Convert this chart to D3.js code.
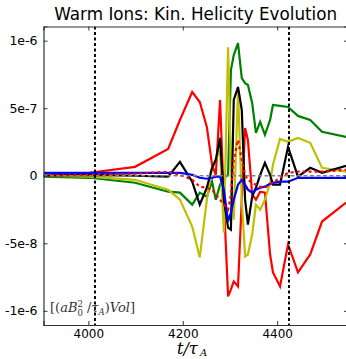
<!DOCTYPE html>
<html>
<head>
<meta charset="utf-8">
<script src="https://cdn.jsdelivr.net/npm/d3@7"></script>
<style>
  body { margin: 0; background: #fff; }
  svg { display: block; }
</style>
</head>
<body>
<svg id="chart"></svg>
<script>
// time samples (t / tau_A)
var time = [3905, 4003, 4099, 4169, 4194, 4220, 4236, 4251, 4262, 4270,
            4279, 4287, 4296, 4302, 4308, 4317, 4325, 4332, 4338, 4347,
            4355, 4364, 4374, 4385, 4391, 4406, 4423, 4444, 4470, 4495, 4546];

// helicity values, in units of 1e-7
var redSolid = [0, 0.22, 0.66, 1.99, 4.13, 6.2, 5.46, 3.62, 0.81, 0.07,
                5.61, -1.77, -8.93, -8.41, -7.82, -8.19, -1.77, 3.54, 2.66, -1.4,
                -1.77, -1.18, -1.25, -5.83, -7.16, -8.19, -5.09, -7.16, -5.83, -3.39, -1.99];
var green = [-0.07, -0.15, -0.52, -1.18, -1.25, -2.14, -1.25, -1.55, -0.44, -1.77,
             -0.66, -0.15, 0.07, 7.82, 8.93, 9.82, 7.23, 6.86, 6.72, 5.39,
             3.17, 3.99, 3.03, 4.13, 5.24, 5.17, 5.09, 4.43, 4.13, 3.25, 2.88];
var yellow = [0, -0.07, -0.3, -1.03, -1.77, -3.76, -6.05, -1.77, 0.59, 1.18,
              1.92, -4.2, 9.52, 0.44, -3.25, 6.35, -1.77, -5.98, -5.83, -4.35,
              -2.14, -2.51, -1.77, -0.52, 0.81, 2.73, 2.51, 2.8, 2.44, 0.59, 0.3];
var black = [0, 0.07, 0, -0.07, 1.03, -0.44, -2.14, -0.89, 0.59, 1.18,
             2.8, -1.77, -3.84, -3.99, 5.61, 6.57, 4.87, -1.77, -3.62, -1.55,
             -0.89, 0.07, 0.96, 0.07, -0.66, -0.66, 2.14, -0.07, 0.59, 0.22, 0.74];
var blue = [0.22, 0.22, 0.22, 0.22, 0.22, 0.07, -0.15, -0.22, -0.15, -0.07,
            -0.07, -1.03, -3.39, -2.73, -1.77, -0.66, -0.3, -0.66, -1.03, -1.25,
            -1.03, -0.89, -0.81, -0.59, -0.52, -0.44, -0.44, -0.15, -0.15, -0.15, -0.15];
var redDotted = [0, 0.07, 0.15, 0.3, 0.07, -0.3, -0.81, -0.89, -1.03, -1.4,
                 -1.77, -2.14, -2.51, -1.4, 1.18, 2.66, 1.18, 0.07, -0.3, -0.52,
                 -0.66, -0.81, -0.89, -0.66, -0.52, -0.15, 0.22, 0.3, 0.3, 0.3, 0.44];

var xTicks = [4000, 4200, 4400];
var yTicks = [10, 5, 0, -5, -10];
var yTickLabels = ["1e-6", "5e-7", "0", "-5e-8", "-1e-6"];
var markers = [4014, 4425];

var size = { width: 346, height: 359, top: 26.5, bottom: 34, left: 43.5, right: -2 };

var svg = d3.select("#chart")
    .attr("width", size.width)
    .attr("height", size.height);

var x = d3.scaleLinear()
    .domain([3905, 4550])
    .range([size.left, size.width - size.right]);
var y = d3.scaleLinear()
    .domain([-11.05, 11.05])
    .range([size.height - size.bottom, size.top]);

svg.append("clipPath").attr("id", "plot-clip")
    .append("rect")
    .attr("x", x.range()[0]).attr("y", y.range()[1])
    .attr("width", x.range()[1] - x.range()[0])
    .attr("height", y.range()[0] - y.range()[1]);

var plot = svg.append("g").attr("clip-path", "url(#plot-clip)");

var line = d3.line()
    .x(function(d, i) { return x(time[i]); })
    .y(function(d) { return y(d); });

var series = [
    { values: redSolid, color: "#ff0000", dash: null },
    { values: green, color: "#008000", dash: null },
    { values: yellow, color: "#bfbf00", dash: null },
    { values: black, color: "#000000", dash: null },
    { values: blue, color: "#0000ff", dash: null },
    { values: redDotted, color: "#ff0000", dash: "3,3" }
];

series.forEach(function(s) {
    plot.append("path")
        .datum(s.values)
        .attr("d", line)
        .attr("fill", "none")
        .attr("stroke", s.color)
        .attr("stroke-width", 2.2)
        .attr("stroke-linejoin", "miter")
        .attr("stroke-dasharray", s.dash);
});

// zero line
plot.append("line")
    .attr("x1", x.range()[0]).attr("x2", x.range()[1])
    .attr("y1", y(0)).attr("y2", y(0))
    .attr("stroke", "#808080")
    .attr("stroke-width", 1.5)
    .attr("stroke-dasharray", "4,2.5");

// vertical markers
plot.selectAll(".marker")
    .data(markers)
    .enter().append("line")
    .attr("class", "marker")
    .attr("x1", function(d) { return x(d); })
    .attr("x2", function(d) { return x(d); })
    .attr("y1", y.range()[1]).attr("y2", y.range()[0])
    .attr("stroke", "#000")
    .attr("stroke-width", 2)
    .attr("stroke-dasharray", "3,2.5");

// axes (ticks point inward)
var xAxis = d3.axisBottom(x).tickValues(xTicks).tickSize(-4).tickPadding(4)
    .tickFormat(d3.format("d"));
var yAxis = d3.axisLeft(y).tickValues(yTicks).tickSize(-4).tickPadding(6)
    .tickFormat(function(d, i) { return yTickLabels[i]; });

var gx = svg.append("g")
    .attr("transform", "translate(0," + y.range()[0] + ")")
    .call(xAxis);
var gy = svg.append("g")
    .attr("transform", "translate(" + x.range()[0] + ",0)")
    .call(yAxis);
svg.append("g")
    .attr("transform", "translate(0," + y.range()[1] + ")")
    .call(d3.axisTop(x).tickValues(xTicks).tickSize(-4).tickFormat(""));
svg.append("g")
    .attr("transform", "translate(" + x.range()[1] + ",0)")
    .call(d3.axisRight(y).tickValues(yTicks).tickSize(-4).tickFormat(""));

svg.selectAll(".domain").attr("stroke", "#333").attr("stroke-width", 1.2);
svg.selectAll(".tick line").attr("stroke", "#333");
gx.selectAll("text").style("font-family", "DejaVu Sans").style("font-size", "12px").attr("fill", "#000");
gy.selectAll("text").style("font-family", "DejaVu Sans").style("font-size", "12.5px").attr("fill", "#000");

// title
svg.append("text")
    .attr("x", (x.range()[0] + x.range()[1]) / 2)
    .attr("y", 20)
    .attr("text-anchor", "middle")
    .style("font-family", "DejaVu Sans")
    .style("font-size", "16.8px")
    .text("Warm Ions: Kin. Helicity Evolution");

// x label t/tau_A
svg.append("text")
    .attr("x", 177)
    .attr("y", 354)
    .style("font-family", "DejaVu Serif")
    .style("font-size", "16px")
    .style("font-style", "italic")
    .text("t/τ");
svg.append("text")
    .attr("x", 200)
    .attr("y", 356)
    .style("font-family", "DejaVu Serif")
    .style("font-size", "10px")
    .style("font-style", "italic")
    .text("A");

// units annotation
var un = svg.append("text")
    .attr("x", 50)
    .attr("y", 312)
    .attr("fill", "#333")
    .style("font-family", "DejaVu Serif")
    .style("font-size", "13px");
un.append("tspan").text("[(");
un.append("tspan").style("font-style", "italic").text("aB");
un.append("tspan").attr("dy", -5).style("font-size", "8.5px").text("2");
un.append("tspan").attr("dx", -5.5).attr("dy", 9).style("font-size", "8.5px").text("0");
un.append("tspan").attr("dy", -4).text(" /");
un.append("tspan").style("font-style", "italic").text("τ");
un.append("tspan").attr("dy", 3).style("font-size", "8.5px").style("font-style", "italic").text("A");
un.append("tspan").attr("dy", -3).text(")");
un.append("tspan").style("font-style", "italic").text("Vol");
un.append("tspan").text("]");
</script>
</body>
</html>
